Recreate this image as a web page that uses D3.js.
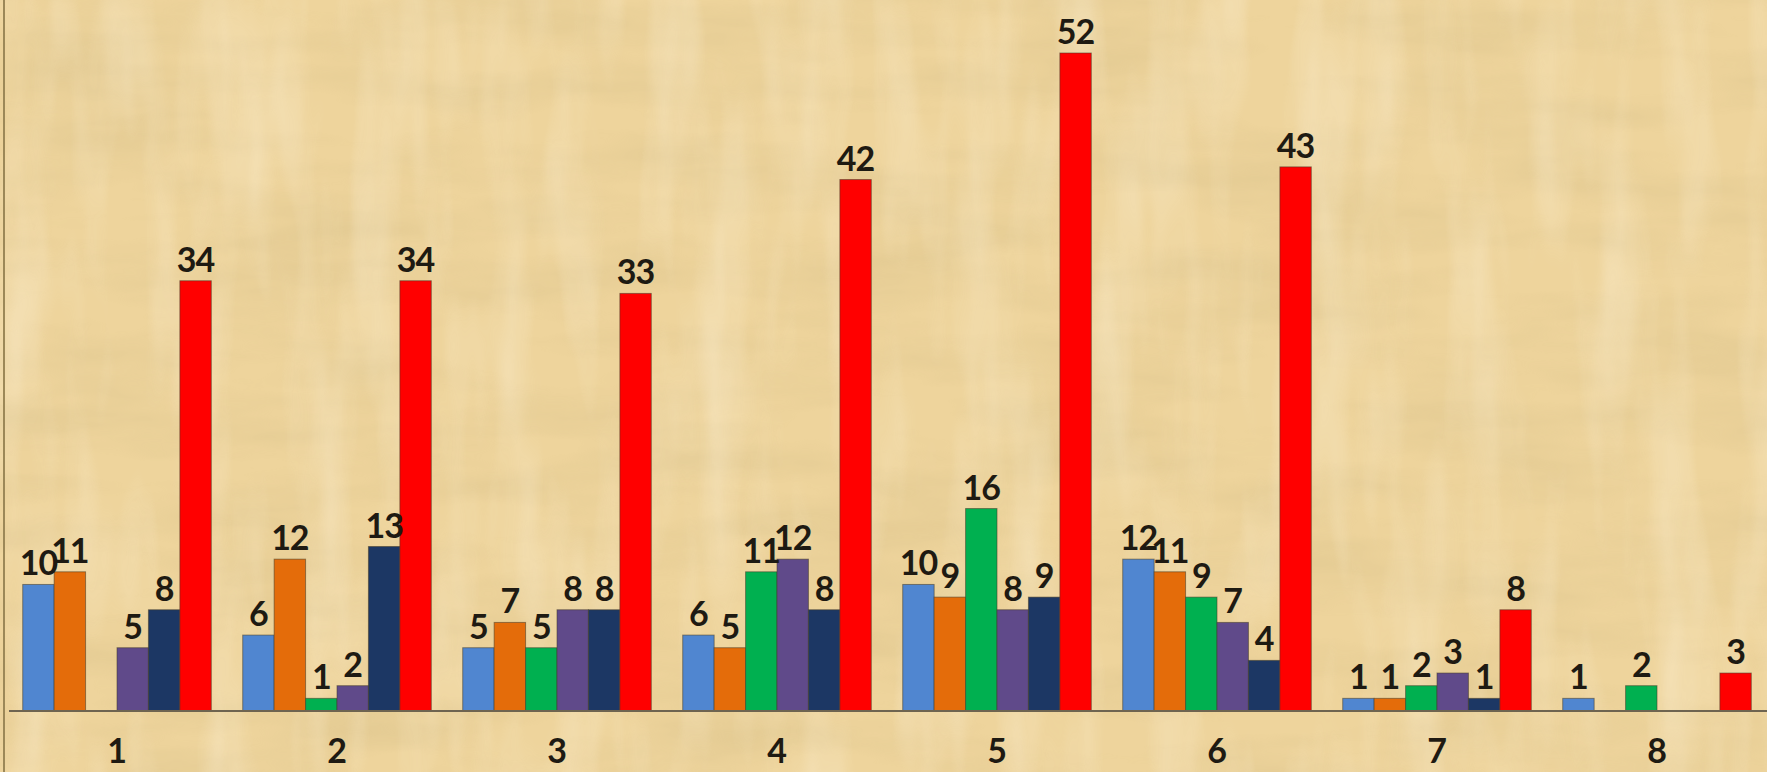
<!DOCTYPE html>
<html>
<head>
<meta charset="utf-8">
<script src="https://cdn.jsdelivr.net/npm/d3@7"></script>
<style>
  html, body { margin: 0; padding: 0; background: #EDD39C; overflow: hidden; }
  svg { display: block; }
</style>
</head>
<body>
<svg id="chart" width="1767" height="772"></svg>
<script>
// ---- data ----
const categories = ["1", "2", "3", "4", "5", "6", "7", "8"];
const seriesNames = ["S1", "S2", "S3", "S4", "S5", "S6"];
const s1 = [10, 6, 5, 6, 10, 12, 1, 1];
const s2 = [11, 12, 7, 5, 9, 11, 1, null];
const s3 = [null, 1, 5, 11, 16, 9, 2, 2];
const s4 = [5, 2, 8, 12, 8, 7, 3, null];
const s5 = [8, 13, 8, 8, 9, 4, 1, null];
const s6 = [34, 34, 33, 42, 52, 43, 8, 3];
const seriesValues = [s1, s2, s3, s4, s5, s6];
const colors = ["#5086D0", "#E46C0A", "#00B050", "#604A8A", "#1C3764", "#FF0000"];

const W = 1767, H = 772;
const svg = d3.select("#chart");

// ---- background (papyrus-like texture) ----
const defs = svg.append("defs");
const f = defs.append("filter").attr("id", "pap").attr("x", 0).attr("y", 0).attr("width", "100%").attr("height", "100%");
f.append("feTurbulence").attr("type", "fractalNoise").attr("baseFrequency", "0.005 0.02").attr("numOctaves", 4).attr("seed", 11).attr("result", "n");
f.append("feColorMatrix").attr("in", "n").attr("type", "matrix")
  .attr("values", "0 0 0 0 0.62  0 0 0 0 0.48  0 0 0 0 0.22  0 0 0 -1.2 0.75");
const f2 = defs.append("filter").attr("id", "pap2").attr("x", 0).attr("y", 0).attr("width", "100%").attr("height", "100%");
f2.append("feTurbulence").attr("type", "fractalNoise").attr("baseFrequency", "0.02 0.004").attr("numOctaves", 3).attr("seed", 3).attr("result", "n");
f2.append("feColorMatrix").attr("in", "n").attr("type", "matrix")
  .attr("values", "0 0 0 0 1  0 0 0 0 0.93  0 0 0 0 0.78  0 0 0 1.4 -0.6");
svg.append("rect").attr("width", W).attr("height", H).attr("fill", "#EED49C");
svg.append("rect").attr("width", W).attr("height", H).attr("filter", "url(#pap)").attr("opacity", 0.5);
svg.append("rect").attr("width", W).attr("height", H).attr("filter", "url(#pap2)").attr("opacity", 0.5);

// ---- scales ----
const x0 = d3.scaleBand().domain(categories).range([7, 1767]).paddingInner(0).paddingOuter(0);
const y = d3.scaleLinear().domain([0, 52]).range([711, 53]);

// left border line
svg.append("line").attr("x1", 4).attr("x2", 4).attr("y1", 0).attr("y2", H)
  .attr("stroke", "#9C8858").attr("stroke-width", 2);

const g = svg.append("g");
const groups = g.selectAll("g.cat").data(categories).join("g")
  .attr("class", "cat")
  .attr("transform", d => `translate(${x0(d)},0)`);

const barW = x0.bandwidth() / 7;
const off = (x0.bandwidth() - barW * 6) / 2;

groups.each(function (cat, ci) {
  const gg = d3.select(this);
  const rows = seriesNames.map((s, si) => ({ s, si, v: seriesValues[si][ci] }));
  gg.selectAll("rect").data(rows.filter(r => r.v !== null && r.v > 0)).join("rect")
    .attr("x", r => off + r.si * barW)
    .attr("y", r => y(r.v))
    .attr("width", barW)
    .attr("height", r => y(0) - y(r.v))
    .attr("fill", r => colors[r.si])
    .attr("stroke", "rgba(70,60,40,0.55)")
    .attr("stroke-width", 1);
  gg.selectAll("text").data(rows.filter(r => r.v !== null)).join("text")
    .attr("x", r => off + r.si * barW + barW / 2)
    .attr("y", r => y(r.v) - 9)
    .attr("text-anchor", "middle")
    .attr("font-family", "Lato, 'Open Sans', sans-serif")
    .attr("font-size", 34)
    .attr("font-weight", 700)
    .attr("letter-spacing", -1)
    .attr("fill", "#1E1A12")
    .text(r => r.v);
});

// baseline axis
const xAxis = d3.axisBottom(x0).tickSize(0).tickPadding(28);
const ax = svg.append("g").attr("transform", `translate(0,${y(0)})`).call(xAxis);
ax.select(".domain").attr("stroke", "#6E6450").attr("stroke-width", 2).attr("d", `M9,0H${W}`);
ax.selectAll("text")
  .attr("font-family", "Lato, 'Open Sans', sans-serif")
  .attr("font-size", 34)
  .attr("font-weight", 700)
  .attr("fill", "#1E1A12")
  .attr("dy", "0.71em");
</script>
</body>
</html>
